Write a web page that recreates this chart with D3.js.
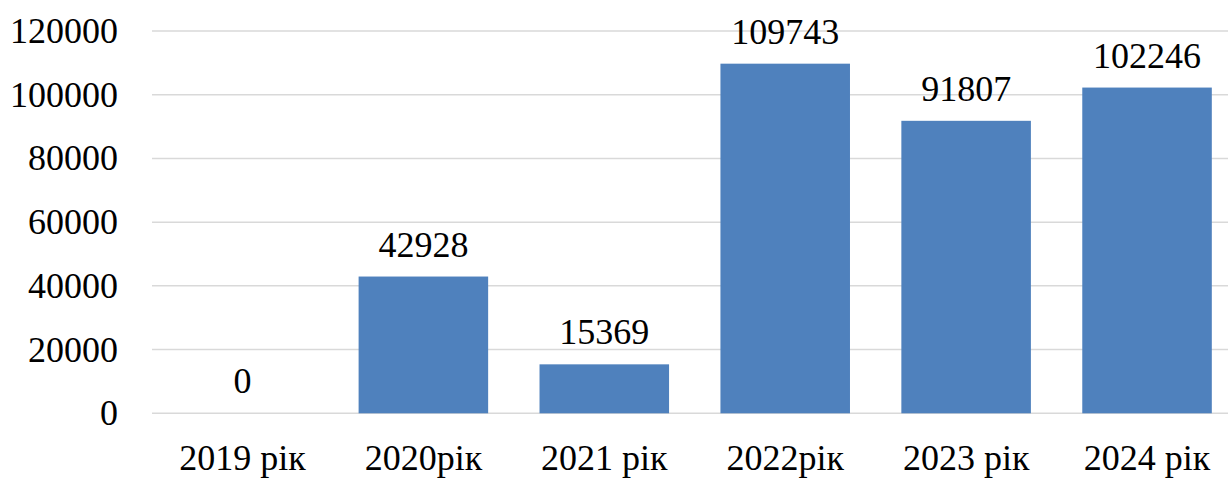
<!DOCTYPE html>
<html>
<head>
<meta charset="utf-8">
<script src="https://cdn.jsdelivr.net/npm/d3@7"></script>
</head>
<body style="margin:0;background:#fff">
<svg id="chart" width="1228" height="478" style="display:block"></svg>
<script>
// Categories and values
const categories = ["2019 рік", "2020рік", "2021 рік", "2022рік", "2023 рік", "2024 рік"];
const values = [0, 42928, 15369, 109743, 91807, 102246];
const yTicks = [0, 20000, 40000, 60000, 80000, 100000, 120000];

const chartWidth = 1228;
const plot = { left: 152, right: 1237.5, top: 31, bottom: 413.3 };
const fontSize = 36;
const labelFont = "'Liberation Serif', serif";

const svg = d3.select("#chart");

const x = d3.scaleBand()
  .domain(categories)
  .range([plot.left, plot.right])
  .paddingInner(0.284)
  .paddingOuter(0.142);

const y = d3.scaleLinear()
  .domain([0, 120000])
  .range([plot.bottom, plot.top]);

// Serif text styling shared by all labels
function styleText(sel) {
  sel.attr("font-size", fontSize)
    .attr("font-family", "Liberation Serif")
    .style("font-family", labelFont)
    .attr("fill", "#000");
}

// Horizontal gridlines
svg.append("g")
  .selectAll("line")
  .data(yTicks)
  .join("line")
  .attr("x1", plot.left)
  .attr("x2", chartWidth)
  .attr("y1", d => y(d))
  .attr("y2", d => y(d))
  .attr("stroke", "#d9d9d9")
  .attr("stroke-width", 1.5);

// Y axis labels
const yAxis = d3.axisLeft(y).tickValues(yTicks).tickSize(0).tickPadding(34).tickFormat(d3.format("d"));
const gy = svg.append("g").attr("transform", `translate(${plot.left},0)`).call(yAxis);
gy.select(".domain").remove();
gy.attr("font-family", "Liberation Serif").attr("font-size", fontSize);
gy.selectAll("text").call(styleText);

// Bars
svg.append("g")
  .selectAll("rect")
  .data(values)
  .join("rect")
  .attr("x", (d, i) => x(categories[i]))
  .attr("width", x.bandwidth())
  .attr("y", d => y(d))
  .attr("height", d => y(0) - y(d))
  .attr("fill", "#4f81bd");

// Value labels above the bars
svg.append("g")
  .selectAll("text")
  .data(values)
  .join("text")
  .attr("x", (d, i) => x(categories[i]) + x.bandwidth() / 2)
  .attr("y", d => y(d) - 20)
  .attr("text-anchor", "middle")
  .call(styleText)
  .text(d => d);

// X axis labels
const xAxis = d3.axisBottom(x).tickSize(0).tickPadding(0);
const gx = svg.append("g").attr("transform", `translate(0,${plot.bottom})`).call(xAxis);
gx.select(".domain").remove();
gx.attr("font-family", "Liberation Serif").attr("font-size", fontSize);
gx.selectAll("text")
  .call(styleText)
  .attr("dy", null)
  .attr("y", 57);
</script>
</body>
</html>
